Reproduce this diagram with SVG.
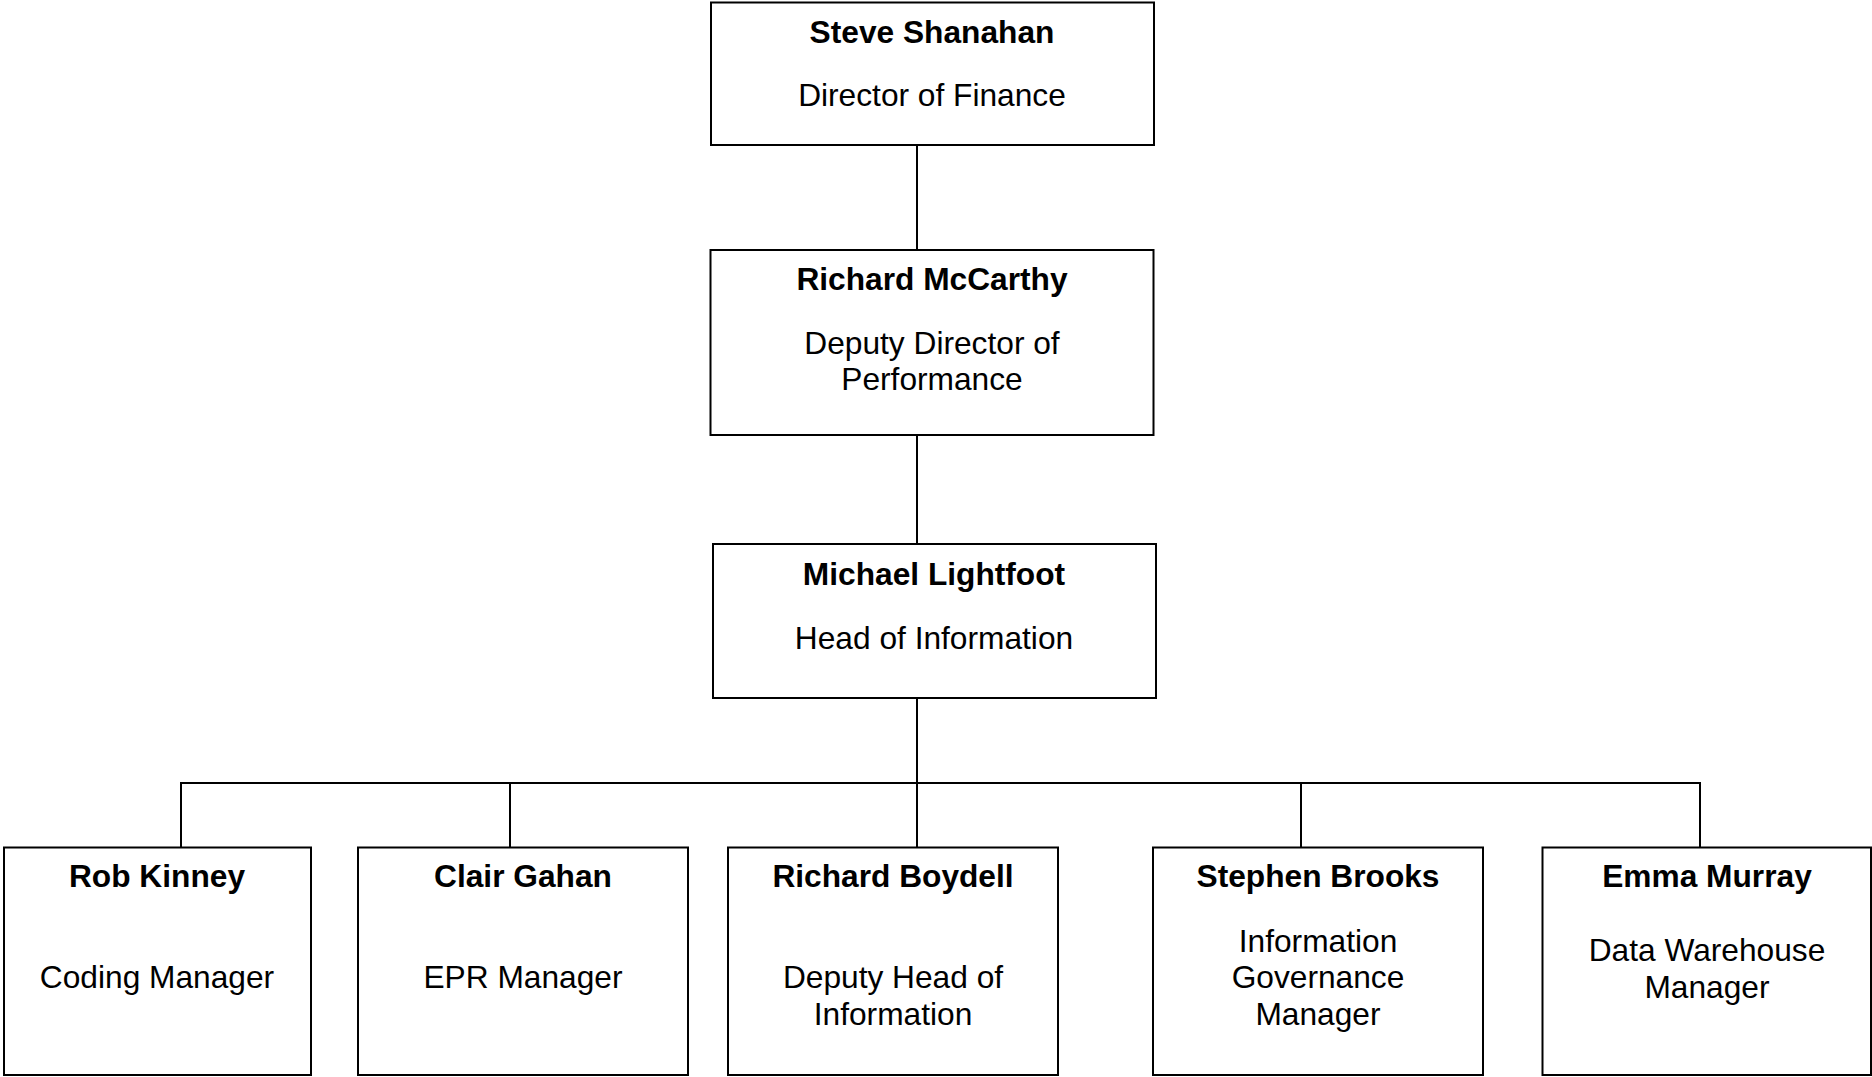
<svg xmlns="http://www.w3.org/2000/svg" width="1872" height="1077" viewBox="0 0 1872 1077">
<style>
.box{fill:#fff;stroke:#000;stroke-width:2}
.conn line{stroke:#000;stroke-width:2}
text{font-family:"Liberation Sans",Arial,sans-serif;font-size:31.7px;fill:#000;text-anchor:middle}
.name{font-weight:bold}
</style>
<rect width="1872" height="1077" fill="#fff"/>
<g class="conn" id="connectors">
<line x1="917" y1="145" x2="917" y2="250"/>
<line x1="917" y1="435" x2="917" y2="544"/>
<line x1="917" y1="698" x2="917" y2="847.5"/>
<line x1="180" y1="783" x2="1701" y2="783"/>
<line x1="181" y1="782" x2="181" y2="847.5"/>
<line x1="510" y1="782" x2="510" y2="847.5"/>
<line x1="1301" y1="782" x2="1301" y2="847.5"/>
<line x1="1700" y1="782" x2="1700" y2="847.5"/>
</g>
<g id="node-steve">
<rect class="box" x="711" y="2.5" width="443" height="142.5"/>
<text class="name" x="932" y="43">Steve Shanahan</text>
<text x="932" y="106">Director of Finance</text>
</g>
<g id="node-richard-mccarthy">
<rect class="box" x="710.5" y="250" width="443" height="185"/>
<text class="name" x="932" y="290">Richard McCarthy</text>
<text x="932" y="354">Deputy Director of</text>
<text x="932" y="390">Performance</text>
</g>
<g id="node-michael">
<rect class="box" x="713" y="544" width="443" height="154"/>
<text class="name" x="934" y="585">Michael Lightfoot</text>
<text x="934" y="649">Head of Information</text>
</g>
<g id="node-rob">
<rect class="box" x="4" y="847.5" width="307" height="227.5"/>
<text class="name" x="157" y="887">Rob Kinney</text>
<text x="157" y="988">Coding Manager</text>
</g>
<g id="node-clair">
<rect class="box" x="358" y="847.5" width="330" height="227.5"/>
<text class="name" x="523" y="887">Clair Gahan</text>
<text x="523" y="988">EPR Manager</text>
</g>
<g id="node-richard-boydell">
<rect class="box" x="728" y="847.5" width="330" height="227.5"/>
<text class="name" x="893" y="887">Richard Boydell</text>
<text x="893" y="988">Deputy Head of</text>
<text x="893" y="1024.5">Information</text>
</g>
<g id="node-stephen">
<rect class="box" x="1153" y="847.5" width="330" height="227.5"/>
<text class="name" x="1318" y="887">Stephen Brooks</text>
<text x="1318" y="951.5">Information</text>
<text x="1318" y="988">Governance</text>
<text x="1318" y="1024.5">Manager</text>
</g>
<g id="node-emma">
<rect class="box" x="1542.5" y="847.5" width="328.5" height="227.5"/>
<text class="name" x="1707" y="887">Emma Murray</text>
<text x="1707" y="961">Data Warehouse</text>
<text x="1707" y="997.5">Manager</text>
</g>
</svg>
